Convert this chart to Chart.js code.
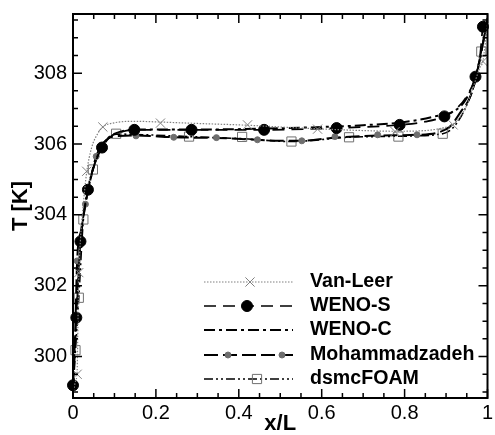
<!DOCTYPE html>
<html>
<head>
<meta charset="utf-8">
<script src="https://cdn.jsdelivr.net/npm/chart.js@4.4.1/dist/chart.umd.min.js"></script>
<style>
  html, body { margin: 0; padding: 0; background: #fff; }
</style>
</head>
<body>
<canvas id="chart" width="495" height="435"></canvas>
<script>
// Axis ticks
const xTickValues = [0, 0.2, 0.4, 0.6, 0.8, 1];
const yTickValues = [300, 302, 304, 306, 308];

// Series names (legend order)
const seriesNames = ['Van-Leer', 'WENO-S', 'WENO-C', 'Mohammadzadeh', 'dsmcFOAM'];

// Curves as [x/L, T]
const vanLeerLine = [[0, 298.95], [0.006, 299.3], [0.01, 299.6], [0.012, 301.0], [0.014, 302.3], [0.018, 303.3],
  [0.024, 304.2], [0.033, 305.2], [0.045, 305.9], [0.06, 306.3], [0.072, 306.48], [0.1, 306.6], [0.15, 306.64],
  [0.211, 306.62], [0.3, 306.58], [0.421, 306.53], [0.5, 306.48], [0.59, 306.43], [0.7, 306.38], [0.777, 306.36],
  [0.85, 306.38], [0.89, 306.45], [0.917, 306.56], [0.945, 306.97], [0.961, 307.44], [0.981, 308.14],
  [0.989, 308.35], [1.0, 309.4]];
const vanLeerMarks = [[0.010, 299.5], [0.014, 302.37], [0.033, 305.23], [0.072, 306.48], [0.211, 306.59],
  [0.421, 306.54], [0.590, 306.42], [0.777, 306.35], [0.917, 306.54], [0.989, 308.33]];

const wenoSLine = [[0, 299.19], [0.004, 300.2], [0.008, 301.1], [0.013, 302.3], [0.018, 303.25], [0.026, 304.05],
  [0.036, 304.71], [0.05, 305.35], [0.07, 305.9], [0.09, 306.2], [0.115, 306.34], [0.148, 306.40], [0.286, 306.40],
  [0.461, 306.40], [0.636, 306.45], [0.788, 306.54], [0.85, 306.63], [0.896, 306.78], [0.925, 307.0], [0.95, 307.35],
  [0.971, 307.9], [0.982, 308.5], [0.989, 309.31], [1.0, 309.55]];
const wenoSMarks = [[0.0, 299.19], [0.008, 301.1], [0.018, 303.25], [0.036, 304.71], [0.07, 305.9], [0.148, 306.40],
  [0.286, 306.40], [0.461, 306.40], [0.636, 306.45], [0.788, 306.54], [0.896, 306.78], [0.971, 307.90], [0.989, 309.31]];

const wenoCLine = [[0, 299.05], [0.004, 300.1], [0.008, 301.0], [0.013, 302.2], [0.018, 303.2], [0.026, 304.0],
  [0.036, 304.68], [0.05, 305.35], [0.07, 305.95], [0.09, 306.22], [0.115, 306.35], [0.15, 306.41], [0.3, 306.41],
  [0.45, 306.43], [0.6, 306.48], [0.7, 306.53], [0.8, 306.62], [0.87, 306.77], [0.925, 306.97], [0.95, 307.3],
  [0.97, 307.85], [0.985, 308.6], [1.0, 309.55]];

const mohLine = [[0, 299.1], [0.005, 300.6], [0.01, 302.7], [0.02, 303.6], [0.03, 304.3], [0.043, 305.05],
  [0.056, 305.65], [0.075, 306.05], [0.1, 306.22], [0.152, 306.24], [0.243, 306.19], [0.346, 306.17], [0.445, 306.12],
  [0.5, 306.09], [0.552, 306.09], [0.632, 306.18], [0.735, 306.24], [0.83, 306.26], [0.88, 306.32], [0.91, 306.5],
  [0.935, 306.9], [0.957, 307.3], [0.973, 307.9], [0.99, 308.9], [1.0, 309.5]];
const mohMarks = [[0.01, 302.7], [0.03, 304.3], [0.056, 305.65], [0.152, 306.23], [0.243, 306.19], [0.346, 306.18],
  [0.445, 306.12], [0.552, 306.09], [0.632, 306.21], [0.735, 306.26], [0.83, 306.26]];

const dsmcLine = [[0, 299.0], [0.006, 300.18], [0.014, 301.66], [0.025, 303.87], [0.035, 304.7], [0.048, 305.28],
  [0.07, 305.9], [0.085, 306.15], [0.104, 306.28], [0.15, 306.27], [0.28, 306.21], [0.408, 306.15], [0.527, 306.07],
  [0.666, 306.19], [0.785, 306.22], [0.892, 306.29], [0.92, 306.5], [0.95, 307.1], [0.97, 307.75], [0.985, 308.61],
  [1.0, 309.5]];
const dsmcMarks = [[0.006, 300.18], [0.014, 301.66], [0.025, 303.87], [0.048, 305.28], [0.104, 306.29], [0.28, 306.21],
  [0.408, 306.2], [0.527, 306.07], [0.666, 306.19], [0.785, 306.21], [0.892, 306.29], [0.985, 308.61]];

const toXY = arr => arr.map(p => ({ x: p[0], y: p[1] }));

// Styles per series
const styles = [
  { color: '#808080', width: 1.2, dash: [1.5, 1.5], marker: 'crossRot', mColor: '#808080', mFill: '#808080', r: 6.5, mBorder: 1 },
  { color: '#000', width: 1.7, dash: [12, 7], marker: 'circle', mColor: '#000', mFill: '#000', r: 5.5, mBorder: 1 },
  { color: '#000', width: 2, dash: [11, 4, 3, 4], marker: null },
  { color: '#000', width: 2, dash: [14, 5], marker: 'circle', mColor: '#6e6e6e', mFill: '#6e6e6e', r: 3, mBorder: 1 },
  { color: '#000', width: 1.6, dash: [9, 3, 2, 3, 2, 3], marker: 'rect', mColor: '#707070', mFill: 'rgba(255,255,255,0)', r: 6.5, mBorder: 1 },
];
const lines = [vanLeerLine, wenoSLine, wenoCLine, mohLine, dsmcLine];
const marks = [vanLeerMarks, wenoSMarks, null, mohMarks, dsmcMarks];

const datasets = [];
lines.forEach((line, i) => {
  const s = styles[i];
  if (marks[i]) {
    datasets.push({
      label: seriesNames[i] + ' markers',
      data: toXY(marks[i]),
      showLine: false,
      pointStyle: s.marker,
      pointRadius: s.r,
      pointBorderColor: s.mColor,
      pointBackgroundColor: s.mFill,
      pointBorderWidth: s.mBorder,
      clip: false,
    });
  }
  datasets.push({
    label: seriesNames[i],
    data: toXY(line),
    borderColor: s.color,
    borderWidth: s.width,
    borderDash: s.dash,
    pointRadius: 0,
    cubicInterpolationMode: 'monotone',
    fill: false,
  });
});

function drawMarker(ctx, type, x, y, s) {
  ctx.save();
  ctx.lineWidth = s.mBorder;
  ctx.strokeStyle = s.mColor;
  ctx.fillStyle = s.mFill;
  ctx.setLineDash([]);
  ctx.beginPath();
  if (type === 'circle') {
    ctx.arc(x, y, s.r, 0, Math.PI * 2);
    ctx.fill();
    ctx.stroke();
  } else if (type === 'rect') {
    const h = s.r * Math.SQRT1_2;
    ctx.rect(x - h, y - h, 2 * h, 2 * h);
    ctx.fill();
    ctx.stroke();
  } else if (type === 'crossRot') {
    const h = s.r * Math.SQRT1_2;
    ctx.moveTo(x - h, y - h); ctx.lineTo(x + h, y + h);
    ctx.moveTo(x - h, y + h); ctx.lineTo(x + h, y - h);
    ctx.stroke();
  }
  ctx.restore();
}

// Inward ticks on all four sides + frame + legend
const framePlugin = {
  id: 'framePlugin',
  afterDraw(chart) {
    const { ctx, chartArea: a, scales: { x, y } } = chart;
    ctx.save();
    ctx.strokeStyle = '#000';
    ctx.lineWidth = 1.5;
    ctx.beginPath();
    for (let k = 0; k <= 20; k++) {
      const v = k * 0.05;
      const px = x.getPixelForValue(v);
      const len = k % 4 === 0 ? 9 : 5;
      ctx.moveTo(px, a.bottom); ctx.lineTo(px, a.bottom - len);
      ctx.moveTo(px, a.top); ctx.lineTo(px, a.top + len);
    }
    for (let k = 0; k <= 21; k++) {
      const v = 299 + k * 0.5;
      const py = y.getPixelForValue(v);
      if (py < a.top || py > a.bottom) continue;
      const len = k % 4 === 2 ? 9 : 5;
      ctx.moveTo(a.left, py); ctx.lineTo(a.left + len, py);
      ctx.moveTo(a.right, py); ctx.lineTo(a.right - len, py);
    }
    ctx.stroke();
    ctx.lineWidth = 2;
    ctx.strokeRect(a.left, a.top, a.right - a.left, a.bottom - a.top);

    // legend
    const rowsY = [282, 306, 330, 355, 379];
    const x0 = 204, x1 = 293, tx = 310;
    const markerX = [[250], [247], [], [228, 282], [257]];
    seriesNames.forEach((name, i) => {
      const s = styles[i];
      const yy = rowsY[i];
      ctx.save();
      ctx.strokeStyle = s.color;
      ctx.lineWidth = s.width;
      ctx.setLineDash(s.dash);
      ctx.beginPath();
      ctx.moveTo(x0, yy); ctx.lineTo(x1, yy);
      ctx.stroke();
      ctx.restore();
      markerX[i].forEach(mx => drawMarker(ctx, s.marker, mx, yy, s));
      ctx.fillStyle = '#000';
      ctx.font = 'bold 19.6px "Liberation Sans", Arial, sans-serif';
      ctx.textBaseline = 'middle';
      ctx.textAlign = 'left';
      ctx.fillText(name, tx, yy);
    });
    ctx.restore();
  }
};

new Chart(document.getElementById('chart'), {
  type: 'line',
  data: { datasets: datasets },
  plugins: [framePlugin],
  options: {
    responsive: false,
    animation: false,
    layout: { padding: { top: 14, right: 2, left: 0, bottom: 0 } },
    plugins: { legend: { display: false }, tooltip: { enabled: false } },
    scales: {
      x: {
        type: 'linear',
        min: 0,
        max: 1,
        grid: { display: false, drawTicks: false },
        border: { display: false },
        afterBuildTicks: s => { s.ticks = xTickValues.map(v => ({ value: v })); },
        afterFit: s => { s.height = 37; s.paddingLeft = 0; s.paddingRight = 0; },
        ticks: {
          autoSkip: false,
          maxRotation: 0,
          padding: 3,
          color: '#000',
          font: { family: '"Liberation Sans", Arial, sans-serif', size: 20 },
          callback: v => String(+v.toFixed(1)),
        },
        title: {
          display: true,
          text: 'x/L',
          color: '#000',
          padding: { top: 0, bottom: 0 },
          font: { family: '"Liberation Sans", Arial, sans-serif', size: 22, weight: 'bold', lineHeight: 1 },
        },
      },
      y: {
        type: 'linear',
        min: 298.83,
        max: 309.67,
        grid: { display: false, drawTicks: false },
        border: { display: false },
        afterBuildTicks: s => { s.ticks = yTickValues.map(v => ({ value: v })); },
        afterFit: s => { s.width = 73; s.paddingTop = 0; s.paddingBottom = 0; },
        ticks: {
          autoSkip: false,
          padding: 6,
          color: '#000',
          font: { family: '"Liberation Sans", Arial, sans-serif', size: 20 },
          callback: v => String(v),
        },
        title: {
          display: true,
          text: 'T [K]',
          color: '#000',
          padding: { top: 10, bottom: 0 },
          font: { family: '"Liberation Sans", Arial, sans-serif', size: 22, weight: 'bold', lineHeight: 1 },
        },
      },
    },
  },
});
</script>
</body>
</html>
